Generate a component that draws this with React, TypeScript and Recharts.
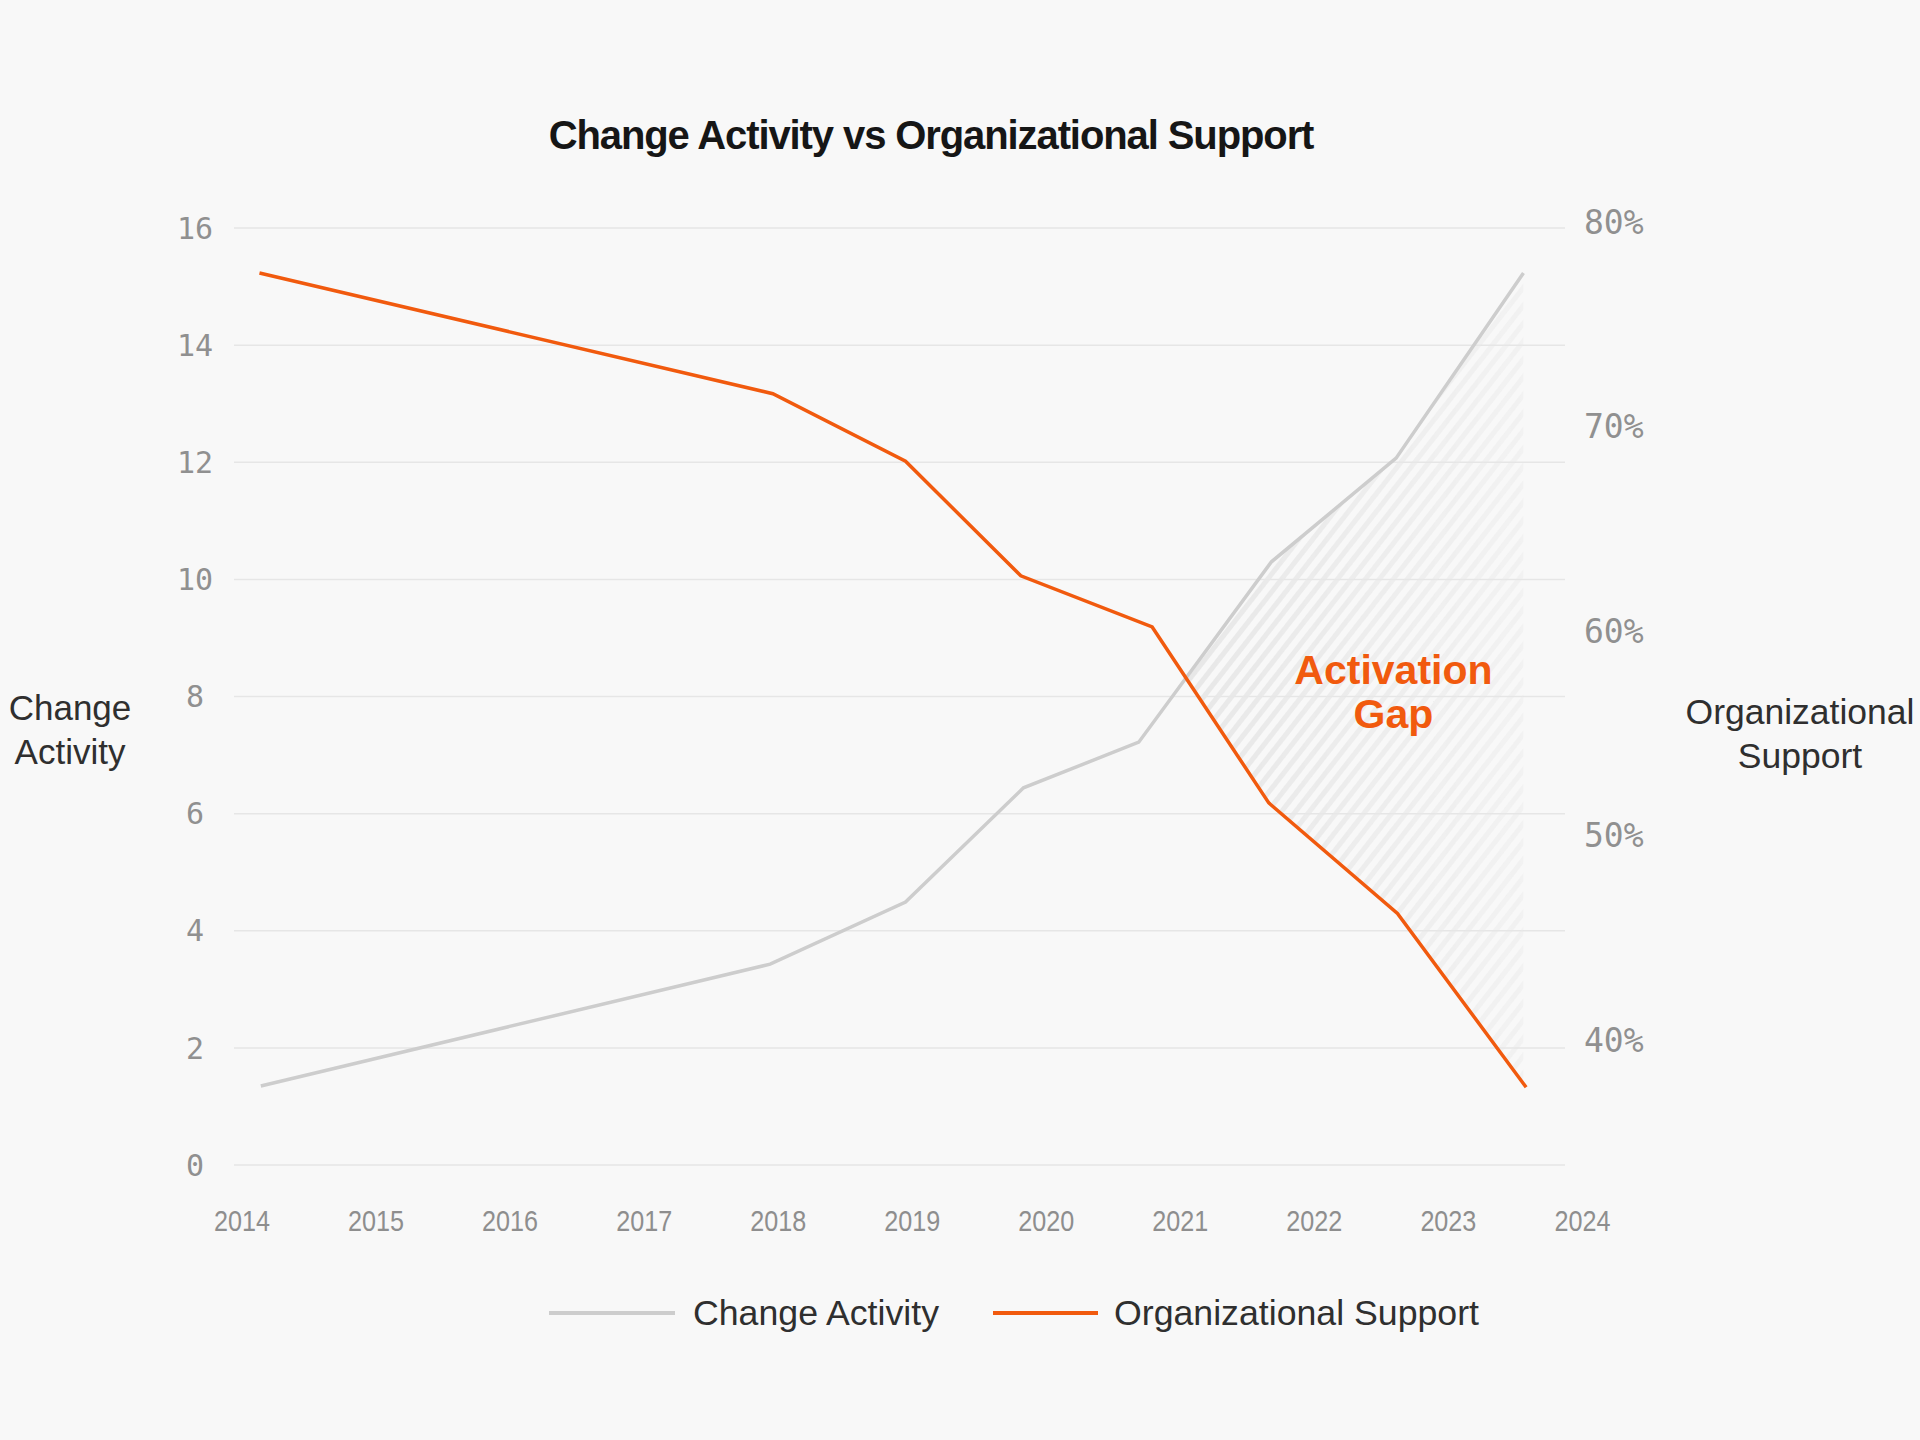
import React from 'react';
import { ComposedChart, Line, Area, XAxis, YAxis, CartesianGrid, ReferenceDot } from 'recharts';

// ---- data ----
const yearTicks = [2014, 2015, 2016, 2017, 2018, 2019, 2020, 2021, 2022, 2023, 2024];
const activityYears = [2014.14, 2017.94, 2018.95, 2019.83, 2020.69, 2021.68, 2022.61, 2023.56];
const activityValues = [1.35, 3.43, 4.49, 6.44, 7.22, 10.3, 12.07, 15.23];
const supportYears = [2014.13, 2017.96, 2018.95, 2019.81, 2020.79, 2021.66, 2022.62, 2023.58];
const supportValues = [77.8, 71.9, 68.6, 63.0, 60.5, 51.9, 46.5, 38.0];
const activityTicks = [0, 2, 4, 6, 8, 10, 12, 14, 16];
const supportTicks = [40, 50, 60, 70, 80];
const activityDomain: [number, number] = [0, 16];
const supportDomain: [number, number] = [34.2, 80];
const yearDomain: [number, number] = [2013.94, 2023.87];

const ORANGE = '#F15A0E';
const GRAY_LINE = '#cdcdcd';
const BG = '#f8f8f8';
const SANS = "'Liberation Sans', Arial, sans-serif";
const MONO = "'DejaVu Sans Mono', monospace";

// ---- derived table ----
function interp(xs: number[], ys: number[], x: number): number {
  if (x <= xs[0]) return ys[0];
  for (let i = 0; i < xs.length - 1; i++) {
    if (x >= xs[i] && x <= xs[i + 1]) {
      const t = (x - xs[i]) / (xs[i + 1] - xs[i]);
      return ys[i] + t * (ys[i + 1] - ys[i]);
    }
  }
  return ys[ys.length - 1];
}
const toLeft = (p: number) =>
  ((p - supportDomain[0]) / (supportDomain[1] - supportDomain[0])) * (activityDomain[1] - activityDomain[0]) + activityDomain[0];

const merged = Array.from(new Set([...activityYears, ...supportYears])).sort((a, b) => a - b);
const diff = (x: number) => interp(activityYears, activityValues, x) - toLeft(interp(supportYears, supportValues, x));
let crossX = merged[0];
for (let i = 0; i < merged.length - 1; i++) {
  const d0 = diff(merged[i]);
  const d1 = diff(merged[i + 1]);
  if (d0 < 0 && d1 >= 0) {
    crossX = merged[i] + ((merged[i + 1] - merged[i]) * -d0) / (d1 - d0);
    break;
  }
}
const gapEnd = Math.min(activityYears[activityYears.length - 1], supportYears[supportYears.length - 1]);
const allX = Array.from(new Set([...merged, crossX])).sort((a, b) => a - b);
const rows = allX.map((x) => {
  const ai = activityYears.indexOf(x);
  const si = supportYears.indexOf(x);
  const inGap = x >= crossX - 1e-9 && x <= gapEnd + 1e-9;
  return {
    year: x,
    activity: ai >= 0 ? activityValues[ai] : undefined,
    support: si >= 0 ? supportValues[si] : undefined,
    gap: inGap
      ? [toLeft(interp(supportYears, supportValues, x)), interp(activityYears, activityValues, x)]
      : undefined,
  };
});

// ---- ticks ----
const LeftTick = (props: any) => {
  const { x, y, payload } = props;
  return (
    <text x={x - 31} y={y} dy="0.355em" textAnchor="middle" fill="#909090" fontSize={30} fontFamily={MONO}>
      {payload.value}
    </text>
  );
};
const RightTick = (props: any) => {
  const { x, y, payload } = props;
  return (
    <text x={x + 11} y={y - 6} dy="0.355em" textAnchor="start" fill="#909090" fontSize={33} fontFamily={MONO}>
      {`${payload.value}%`}
    </text>
  );
};
const BottomTick = (props: any) => {
  const { x, y, payload } = props;
  return (
    <text x={x} y={y + 47} dy="0.355em" textAnchor="middle" fill="#8e8e8e" fontSize={30}
      textLength={56} lengthAdjust="spacingAndGlyphs"
      fontFamily="'Liberation Sans Narrow', 'Liberation Sans', sans-serif">
      {payload.value}
    </text>
  );
};

const GapLabel = (props: any) => {
  const vb = props.viewBox || {};
  const cx = (vb.x ?? 0) + (vb.width ?? 0) / 2;
  const cy = (vb.y ?? 0) + (vb.height ?? 0) / 2;
  return (
    <g>
      <text x={cx} y={cy - 22} dy="0.355em" textAnchor="middle" fill={ORANGE} fontSize={41} fontWeight={700} fontFamily={SANS}>
        Activation
      </text>
      <text x={cx} y={cy + 22} dy="0.355em" textAnchor="middle" fill={ORANGE} fontSize={41} fontWeight={700} fontFamily={SANS}>
        Gap
      </text>
    </g>
  );
};

const legendItems = [
  { name: 'Change Activity', color: GRAY_LINE, sample: 126, gap: 18 },
  { name: 'Organizational Support', color: ORANGE, sample: 105, gap: 16 },
];

export default function App() {
  return (
    <div style={{ position: 'absolute', left: 0, top: 0, width: 1920, height: 1440, background: BG, overflow: 'hidden' }}>
      <div
        style={{
          position: 'absolute', left: 0, top: 113, width: 1862, textAlign: 'center',
          fontFamily: SANS, fontWeight: 700, fontSize: 40, lineHeight: '44px', color: '#161616', letterSpacing: -1.1,
        }}
      >
        Change Activity vs Organizational Support
      </div>
      <div
        style={{
          position: 'absolute', left: 0, top: 686, width: 140, textAlign: 'center',
          fontFamily: SANS, fontSize: 35, lineHeight: '44px', color: '#2f2f2f',
        }}
      >
        Change<br />Activity
      </div>
      <div
        style={{
          position: 'absolute', left: 1680, top: 690, width: 240, textAlign: 'center',
          fontFamily: SANS, fontSize: 35.5, lineHeight: '44px', color: '#2f2f2f',
        }}
      >
        Organizational<br />Support
      </div>
      <ComposedChart
        width={1920}
        height={1440}
        data={rows}
        margin={{ top: 228, right: 255, bottom: 195, left: 134 }}
        style={{ position: 'absolute', left: 0, top: 0 }}
      >
        <defs>
          <pattern id="hatch" patternUnits="userSpaceOnUse" width={11} height={11} patternTransform="rotate(38)">
            <rect x={0} y={0} width={5} height={11} fill="#e7e7e7" />
          </pattern>
          <linearGradient id="fadeGrad" x1="0" y1="0" x2="1" y2="0">
            <stop offset="0" stopColor="#fff" stopOpacity={1} />
            <stop offset="1" stopColor="#fff" stopOpacity={0.35} />
          </linearGradient>
          <mask id="fadeMask" maskContentUnits="objectBoundingBox">
            <rect x={0} y={0} width={1} height={1} fill="url(#fadeGrad)" />
          </mask>
        </defs>
        <CartesianGrid yAxisId="left" vertical={false} stroke="#e6e6e6" strokeWidth={1.5} />
        <XAxis
          dataKey="year"
          type="number"
          domain={yearDomain}
          ticks={yearTicks}
          allowDataOverflow
          axisLine={false}
          tickLine={false}
          height={80}
          tick={<BottomTick />}
          interval={0}
        />
        <YAxis
          yAxisId="left"
          orientation="left"
          domain={activityDomain}
          ticks={activityTicks}
          width={100}
          axisLine={false}
          tickLine={false}
          tick={<LeftTick />}
          interval={0}
        />
        <YAxis
          yAxisId="right"
          orientation="right"
          domain={supportDomain}
          ticks={supportTicks}
          allowDataOverflow
          width={100}
          axisLine={false}
          tickLine={false}
          tick={<RightTick />}
          interval={0}
        />
        <Area
          yAxisId="left"
          dataKey="gap"
          type="linear"
          stroke="none"
          fill="url(#hatch)"
          fillOpacity={1}
          mask="url(#fadeMask)"
          dot={false}
          activeDot={false}
          isAnimationActive={false}
        />
        <Line
          yAxisId="left"
          dataKey="activity"
          type="linear"
          stroke={GRAY_LINE}
          strokeWidth={3.5}
          dot={false}
          activeDot={false}
          connectNulls
          isAnimationActive={false}
        />
        <Line
          yAxisId="right"
          dataKey="support"
          type="linear"
          stroke={ORANGE}
          strokeWidth={3.5}
          dot={false}
          activeDot={false}
          connectNulls
          isAnimationActive={false}
        />
        <ReferenceDot
          yAxisId="left"
          x={2022.59}
          y={8.08}
          r={1}
          fill="none"
          stroke="none"
          label={<GapLabel />}
        />
      </ComposedChart>
      <div
        style={{
          position: 'absolute', left: 549, top: 1291, height: 44, display: 'flex', alignItems: 'center',
          fontFamily: SANS, fontSize: 35.7, color: '#2f2f2f',
        }}
      >
        {legendItems.map((it, i) => (
          <div key={it.name} style={{ display: 'flex', alignItems: 'center', marginLeft: i === 0 ? 0 : 54 }}>
            <div style={{ width: it.sample, height: 4, background: it.color }} />
            <span style={{ marginLeft: it.gap }}>{it.name}</span>
          </div>
        ))}
      </div>
    </div>
  );
}
